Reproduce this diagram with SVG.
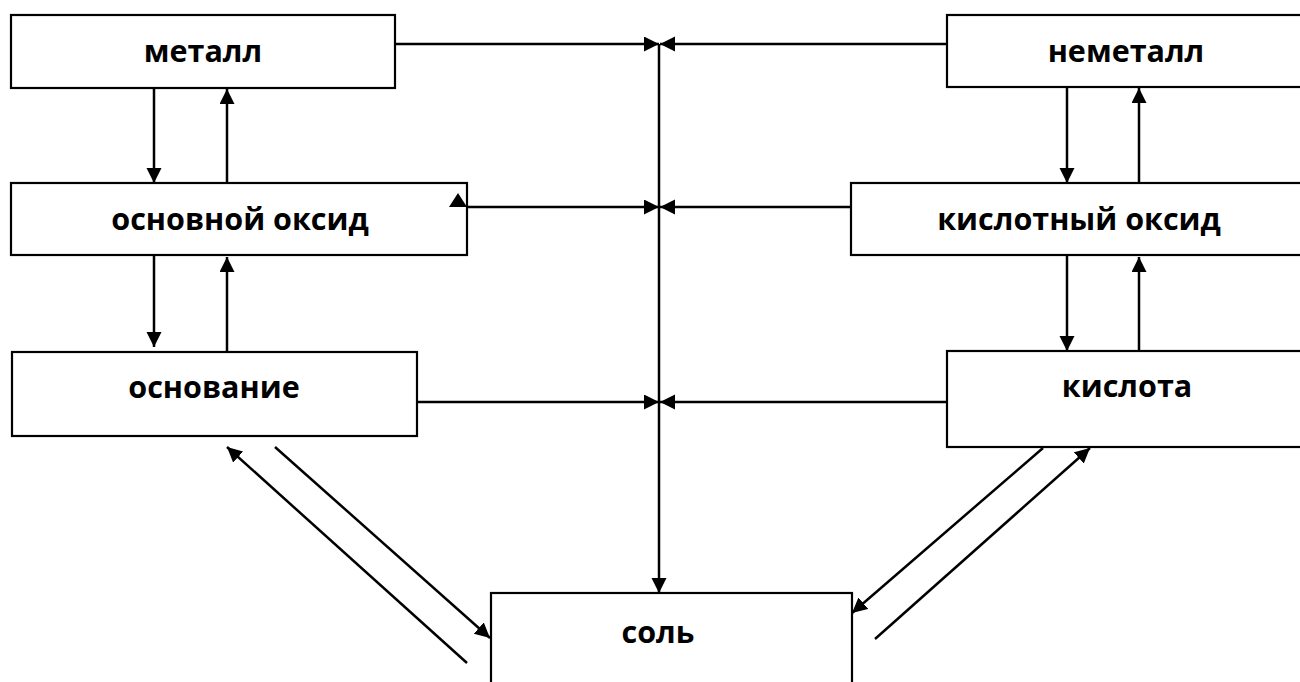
<svg xmlns="http://www.w3.org/2000/svg" width="1300" height="682" viewBox="0 0 1300 682">
<style>
.box{fill:#fff;stroke:#000;stroke-width:2.2}
.lbl{font-family:"Open Sans","Liberation Sans",sans-serif;font-weight:bold;font-size:30.5px;fill:#000;text-anchor:middle}
.c{stroke:#000;stroke-width:2.5;fill:none}
.a{marker-end:url(#ah)}
</style>
<defs>
<marker id="ah" markerUnits="userSpaceOnUse" markerWidth="16" markerHeight="16" refX="15" refY="7.5" orient="auto">
<path d="M0,0 L15,7.5 L0,15 z" fill="#000"/>
</marker>
</defs>
<rect width="1300" height="682" fill="#fff"/>
<g id="metal"><rect class="box" x="11" y="15" width="384" height="73"/><text class="lbl" x="203" y="62">металл</text></g>
<g id="basic-oxide"><rect class="box" x="11" y="183" width="456" height="72"/><text class="lbl" x="240" y="230">основной оксид</text></g>
<g id="base"><rect class="box" x="12" y="352" width="405" height="84"/><text class="lbl" x="214" y="398">основание</text></g>
<g id="nonmetal"><rect class="box" x="947" y="15" width="360" height="72"/><text class="lbl" x="1126" y="62">неметалл</text></g>
<g id="acid-oxide"><rect class="box" x="851" y="183" width="456" height="72"/><text class="lbl" x="1079" y="230">кислотный оксид</text></g>
<g id="acid"><rect class="box" x="947" y="351" width="360" height="96"/><text class="lbl" x="1127" y="397">кислота</text></g>
<g id="salt"><rect class="box" x="491" y="593" width="361" height="100"/><text class="lbl" x="658" y="643">соль</text></g>
<g id="connectors">
<line class="c a" x1="395" y1="44" x2="659" y2="44"/>
<line class="c a" x1="947" y1="44" x2="660" y2="44"/>
<line class="c a" x1="467" y1="207" x2="659" y2="207"/>
<line class="c a" x1="851" y1="207" x2="660" y2="207"/>
<line class="c a" x1="417" y1="402" x2="659" y2="402"/>
<line class="c a" x1="947" y1="402" x2="660" y2="402"/>
<line class="c a" x1="659" y1="44" x2="659" y2="593"/>
<polygon points="449,207 458,193 467,207" fill="#000"/>
<line class="c a" x1="154" y1="88" x2="154" y2="183"/>
<line class="c a" x1="227" y1="183" x2="227" y2="89"/>
<line class="c a" x1="154" y1="255" x2="154" y2="347"/>
<line class="c a" x1="227" y1="352" x2="227" y2="257"/>
<line class="c a" x1="1067" y1="87" x2="1067" y2="183"/>
<line class="c a" x1="1139" y1="183" x2="1139" y2="88"/>
<line class="c a" x1="1067" y1="255" x2="1067" y2="351"/>
<line class="c a" x1="1139" y1="351" x2="1139" y2="257"/>
<line class="c a" x1="467" y1="663" x2="227" y2="447"/>
<line class="c a" x1="275" y1="447" x2="490" y2="638"/>
<line class="c a" x1="1043" y1="448" x2="852" y2="613"/>
<line class="c a" x1="875" y1="639" x2="1090" y2="448"/>
</g>
</svg>
